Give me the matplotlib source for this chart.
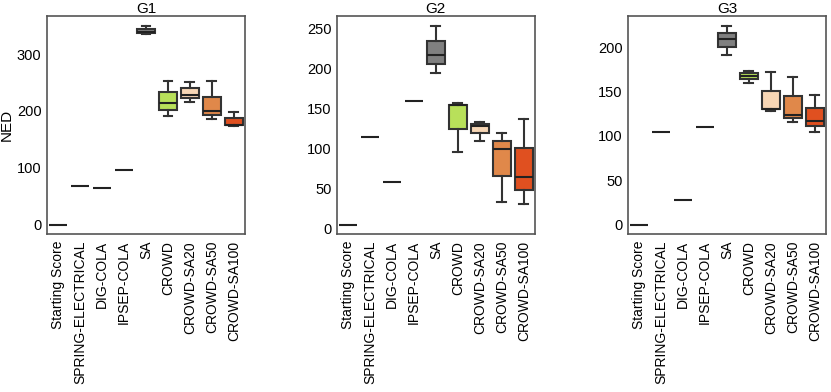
import matplotlib
matplotlib.use("Agg")
import matplotlib.pyplot as plt

plt.rcParams['font.family'] = ['Liberation Sans', 'DejaVu Sans']

methods = ["Starting Score", "SPRING-ELECTRICAL", "DIG-COLA", "IPSEP-COLA", "SA",
           "CROWD", "CROWD-SA20", "CROWD-SA50", "CROWD-SA100"]
colors = ["#ffffff", "#ffffff", "#ffffff", "#ffffff", "#808080",
          "#b8e05a", "#f7d6b5", "#e0884a", "#e05020"]
titles = ["G1", "G2", "G3"]

# (whislo, q1, med, q3, whishi) for each method
g1 = [(0, 0, 0, 0, 0), (68, 68, 68, 68, 68), (65, 65, 65, 65, 65), (97, 97, 97, 97, 97),
      (335, 336.5, 339, 344.5, 349), (190.5, 202, 213.5, 233.5, 253.5),
      (215, 222, 229, 240, 251), (186, 193, 200, 225, 252), (173.5, 175, 176, 187.5, 198)]
g2 = [(4.5, 4.5, 4.5, 4.5, 4.5), (114, 114, 114, 114, 114), (58, 58, 58, 58, 58),
      (160, 160, 160, 160, 160), (195, 206, 217, 235, 254), (96, 124, 155, 155, 157),
      (110, 119, 128, 131, 133), (33, 66, 99, 109, 120), (30, 48, 65, 101, 137)]
g3 = [(0, 0, 0, 0, 0), (104.5, 104.5, 104.5, 104.5, 104.5), (28, 28, 28, 28, 28),
      (110.5, 110.5, 110.5, 110.5, 110.5), (191, 200, 209, 216, 224),
      (160, 164.5, 168, 170.5, 173), (128.5, 130, 130.5, 151, 172),
      (116, 120, 124, 144.5, 166), (104.5, 111.5, 117, 131.5, 146)]
ylims = [(-16.5, 367), (-7, 266), (-10.5, 235)]
yticks = [[0, 100, 200, 300], [0, 50, 100, 150, 200, 250], [0, 50, 100, 150, 200]]

fig = plt.figure(figsize=(8.31, 3.92), dpi=100)
lefts = [0.0566, 0.4055, 0.7557]

for k, data in enumerate([g1, g2, g3]):
    ax = fig.add_axes([lefts[k], 0.403, 0.238, 0.556])
    stats = []
    for name, s in zip(methods, data):
        stats.append(dict(label=name, whislo=s[0], q1=s[1], med=s[2], q3=s[3], whishi=s[4], fliers=[]))
    lw = 1.5
    bp = ax.bxp(stats, widths=0.8, patch_artist=True, showfliers=False,
                boxprops=dict(edgecolor="#333333", linewidth=lw),
                medianprops=dict(color="#222222", linewidth=lw),
                whiskerprops=dict(color="#333333", linewidth=lw),
                capprops=dict(color="#333333", linewidth=lw))
    for patch, c in zip(bp['boxes'], colors):
        patch.set_facecolor(c)
    for j, s in enumerate(data):
        if s[0] == s[4]:
            bp['boxes'][j].set_visible(False)
            bp['caps'][2 * j].set_visible(False)
            bp['caps'][2 * j + 1].set_visible(False)
    ax.set_ylim(*ylims[k])
    ax.set_xlim(0.5, 9.5)
    ax.set_yticks(yticks[k])
    ax.set_xticks(range(1, 10))
    ax.set_xticklabels(methods, rotation=90, fontsize=10)
    ax.tick_params(axis='y', labelsize=10.5, length=0, pad=4)
    ax.tick_params(axis='x', length=0, pad=5)
    for sp in ax.spines.values():
        sp.set_color("#555555")
        sp.set_linewidth(1.2)
    ax.set_title(titles[k], fontsize=11, pad=2)
    if k == 0:
        ax.set_ylabel("NED", fontsize=11, labelpad=2)

fig.savefig("out.png", dpi=100)
